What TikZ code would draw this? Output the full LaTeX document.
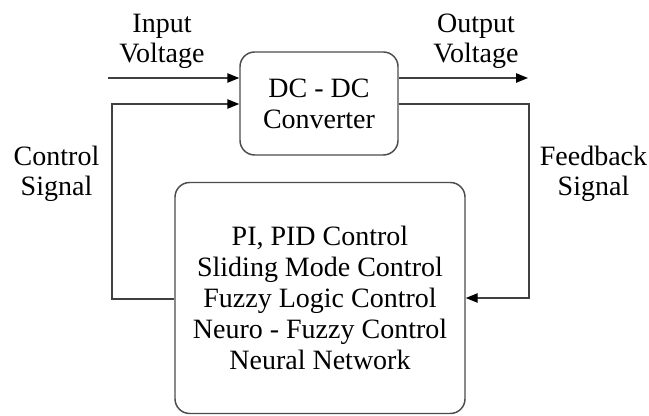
\documentclass[tikz,border=0pt]{standalone}
\usepackage{fontspec}
\setmainfont{Liberation Serif}
\usetikzlibrary{arrows.meta}
\begin{document}
\begin{tikzpicture}[x=0.75pt,y=-0.75pt,
  txt/.style={font=\fontsize{21}{22.5}\selectfont, align=center, inner sep=0pt},
  blk/.style={draw=black!70, line width=1.1pt, rounded corners=11pt, txt},
  conn/.style={draw=black!75, line width=1.1pt},
  arr/.style={conn, -{Triangle[length=9pt,width=7pt,fill=black,color=black]}}]
\useasboundingbox (0,0) rectangle (649,416);
\node[blk, minimum width=158*0.75pt, minimum height=103*0.75pt, font=\fontsize{21}{23.25}\selectfont] (conv) at (319,103.5) {DC - DC\\Converter};
\node[blk, minimum width=290*0.75pt, minimum height=231*0.75pt, font=\fontsize{21}{23.4}\selectfont] (ctrl) at (320,298)
  {PI, PID Control\\Sliding Mode Control\\Fuzzy Logic Control\\Neuro - Fuzzy Control\\Neural Network};
\node[txt] (inlbl) at (162,41) {Input\\Voltage};
\node[txt] (outlbl) at (476,41.5) {Output\\Voltage};
\node[txt] (ctllbl) at (56.5,174) {Control\\Signal};
\node[txt] (fblbl) at (593.5,174) {Feedback\\Signal};
\coordinate (vin) at (108,78);
\coordinate (vout) at (528,78);
\coordinate (cl) at (112,299);
\coordinate (cu) at (112,104);
\coordinate (fu) at (529,104);
\coordinate (fl) at (529,298);
\draw[arr] (vin) -- (vin -| conv.west);
\draw[arr] (vout -| conv.east) -- (vout);
\draw[arr] (cl -| ctrl.west) -- (cl) -- (cu) -- (cu -| conv.west);
\draw[arr] (fu -| conv.east) -- (fu) -- (fl) -- (fl -| ctrl.east);
\end{tikzpicture}
\end{document}
